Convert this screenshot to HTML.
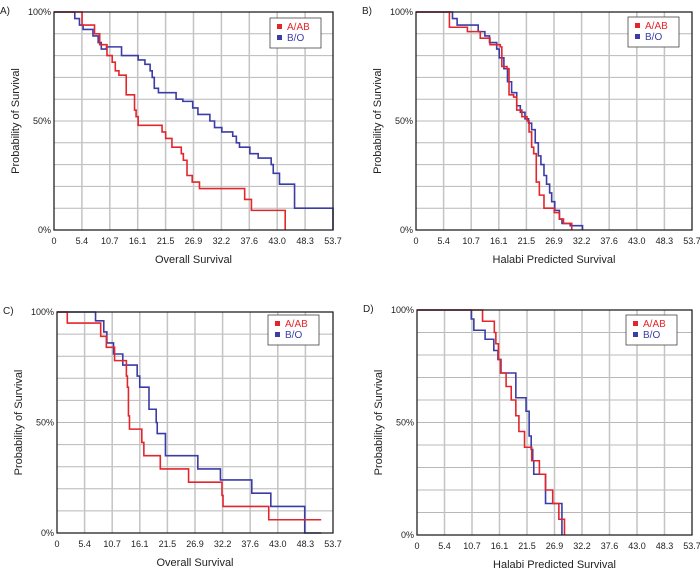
<!DOCTYPE html>
<html><head><meta charset="utf-8">
<style>
html,body{margin:0;padding:0;background:#fff;}
svg{display:block;font-family:"Liberation Sans",sans-serif;}
</style></head>
<body>
<svg id="chart" width="700" height="575" viewBox="0 0 700 575"></svg>
<script>
const xTicks = ["0","5.4","10.7","16.1","21.5","26.9","32.2","37.6","43.0","48.3","53.7"];
const yTicks = ["0%","50%","100%"];
const seriesNames = ["A/AB","B/O"];
// Panel A: Overall Survival
const aRedT = [0,5.4,7.8,8.8,10.2,11.2,11.8,12.5,13.9,15.5,15.8,16.2,20.8,21.5,22.7,24.5,24.9,25.6,26.6,28,36.7,38,44.5];
const aRedS = [100,94,90,85,80,77,73,71,62,55,52,48,45,42,38,35,32,25,22,19,14,9,0];
const aBlueT = [0,4,4.9,5.6,7.5,8.5,9.1,10.1,13,16.2,17.5,18.5,18.9,19.3,20.1,23.5,24.8,26.7,27.7,30,30.9,32.3,34.4,35.1,35.7,37.7,39.3,41.8,42.2,43.4,46.3,53.7];
const aBlueS = [100,97,94,92,89,86,83,84,80,78,76,73,70,65,63,60,59,56,53,50,47,45,43,40,38,35,33,30,26,21,10,0];
// Panel B: Halabi Predicted Survival
const bRedT = [0,6.5,10,12.5,14.4,16.4,16.7,17.7,18.1,19,19.6,20.6,21.6,22,22.5,22.9,23.4,24,24.9,26.9,27.9,28.7,30.3];
const bRedS = [100,93,91,88,85,84,75,74,62,61,55,52,50,45,38,35,22,16,10,8,5,3,0];
const bBlueT = [0,7.1,8,12.1,13.4,14.3,15.7,16.2,17.1,17.8,18.6,19.6,20.3,21.2,21.9,22.5,23.2,23.8,24.3,24.9,25.4,26,26.4,27,27.9,28.4,30,32.4];
const bBlueS = [100,97,94,91,89,86,83,79,74,68,63,57,54,51,49,46,40,34,30,25,21,17,13,9,5,3,2,0];
// Panel C: Overall Survival
const cRedT = [0,2,8.5,9.6,11.2,13.5,13.7,13.9,14.1,16.5,16.9,20.1,25.6,32.1,32.3,41.2,51.4];
const cRedS = [100,95,89,84,78,71,66,53,47,41,35,29,23,17,12,6,6];
const cBlueT = [0,7.5,9.1,9.7,11,12.8,15.6,16.1,17.9,19.3,19.5,21.1,27.4,31.8,37.9,41.6,48.2,51.4];
const cBlueS = [100,96,91,86,81,76,71,66,56,50,45,35,29,24,18,12,0,0];
// Panel D: Halabi Predicted Survival
const dRedT = [0,12.8,15.1,15.4,15.9,16.3,17.4,18.4,19.3,19.9,21,22.4,23.9,25.1,26.5,27.7,28.8];
const dRedS = [100,95,90,85,78,72,66,60,53,46,39,33,27,20,14,7,0];
const dBlueT = [0,10.6,11.1,13.3,15,15.8,16.4,19.3,21.3,21.9,22.3,22.6,22.8,25.1,28.3];
const dBlueS = [100,96,91,87,82,78,72,61,55,44,38,33,27,14,0];

const panels = [
  {id:"a",letter:"A)",x0:54,x1:333,y0:12,y1:230,xt:"Overall Survival",lgx:270,lgy:18,red:[aRedT,aRedS],blue:[aBlueT,aBlueS]},
  {id:"b",letter:"B)",x0:416,x1:692,y0:12,y1:230,xt:"Halabi Predicted Survival",lgx:628,lgy:17,red:[bRedT,bRedS],blue:[bBlueT,bBlueS]},
  {id:"c",letter:"C)",x0:57,x1:333,y0:312,y1:533,xt:"Overall Survival",lgx:268,lgy:315,red:[cRedT,cRedS],blue:[cBlueT,cBlueS]},
  {id:"d",letter:"D)",x0:417,x1:692,y0:310,y1:535,xt:"Halabi Predicted Survival",lgx:626,lgy:315,red:[dRedT,dRedS],blue:[dBlueT,dBlueS]}
];
const NS="http://www.w3.org/2000/svg";
const svg=document.getElementById("chart");
function mk(tag,attrs,parent,text){const e=document.createElementNS(NS,tag);for(const k in attrs)e.setAttribute(k,attrs[k]);if(text!==undefined)e.textContent=text;(parent||svg).appendChild(e);return e;}
const RED="#e3262b", BLUE="#3b3ca6";
panels.forEach(p=>{
  const g=mk("g",{});
  
  
  const xs=t=>p.x0+(t/53.7)*(p.x1-p.x0);
  const ys=s=>p.y1-(s/100)*(p.y1-p.y0);
  for(let i=1;i<10;i++){const y=ys(i*10);const l=mk("line",{x1:p.x0,x2:p.x1,y1:y,y2:y,stroke:"#b8b8b8","stroke-width":1},g);
    }
  xTicks.forEach((lab,i)=>{const x=p.x0+i*(p.x1-p.x0)/10;
    if(i>0&&i<10){const l=mk("line",{x1:x,x2:x,y1:p.y0,y2:p.y1,stroke:"#c4c4c4","stroke-width":1.5},g);
      }
    const t=mk("text",{x:x,y:p.y1+14,"font-size":9,"text-anchor":"middle",fill:"#222"},g,lab);
    });
  yTicks.forEach((lab,i)=>{const t=mk("text",{x:p.x0-3,y:ys(i*50)+3,"font-size":9,"text-anchor":"end",fill:"#222"},g,lab);
    });
  function step(T,S,col,name){let d="M"+xs(T[0])+","+ys(S[0]);
    for(let i=1;i<T.length;i++){d+=" H"+xs(T[i])+" V"+ys(S[i]);}
    const e=mk("path",{d:d,fill:"none",stroke:col,"stroke-width":1.6},g);
    }
  step(p.blue[0],p.blue[1],BLUE,'series-b-o');
  step(p.red[0],p.red[1],RED,'series-a-ab');
  const fr=mk("rect",{x:p.x0,y:p.y0,width:p.x1-p.x0,height:p.y1-p.y0,fill:"none",stroke:"#222","stroke-width":1.3},g);
  
  const lg=mk("g",{},g);
  
  mk("rect",{x:p.lgx,y:p.lgy,width:51,height:30,fill:"#fff",stroke:"#444","stroke-width":0.8},lg);
  seriesNames.forEach((n,i)=>{const col=i?BLUE:RED;const yy=p.lgy+10+i*11;
    const it=mk("g",{},lg);
    
    mk("rect",{x:p.lgx+7,y:yy-4,width:5,height:5,fill:col},it);
    mk("text",{x:p.lgx+17,y:yy+2,"font-size":10,fill:col},it,n);});
  const xt=mk("text",{x:(p.x0+p.x1)/2,y:p.y1+33,"font-size":11,"text-anchor":"middle",fill:"#222"},g,p.xt);
  
  const yx=p.x0-35, yc=(p.y0+p.y1)/2;
  const yt=mk("text",{x:yx,y:yc,"font-size":11,"text-anchor":"middle",fill:"#222",transform:"rotate(-90 "+yx+" "+yc+")"},g,"Probability of Survival");
  
  const lt=mk("text",{x:p.x0-54,y:p.y0+2,"font-size":10,fill:"#222"},g,p.letter);
  
});
</script>
</body></html>
